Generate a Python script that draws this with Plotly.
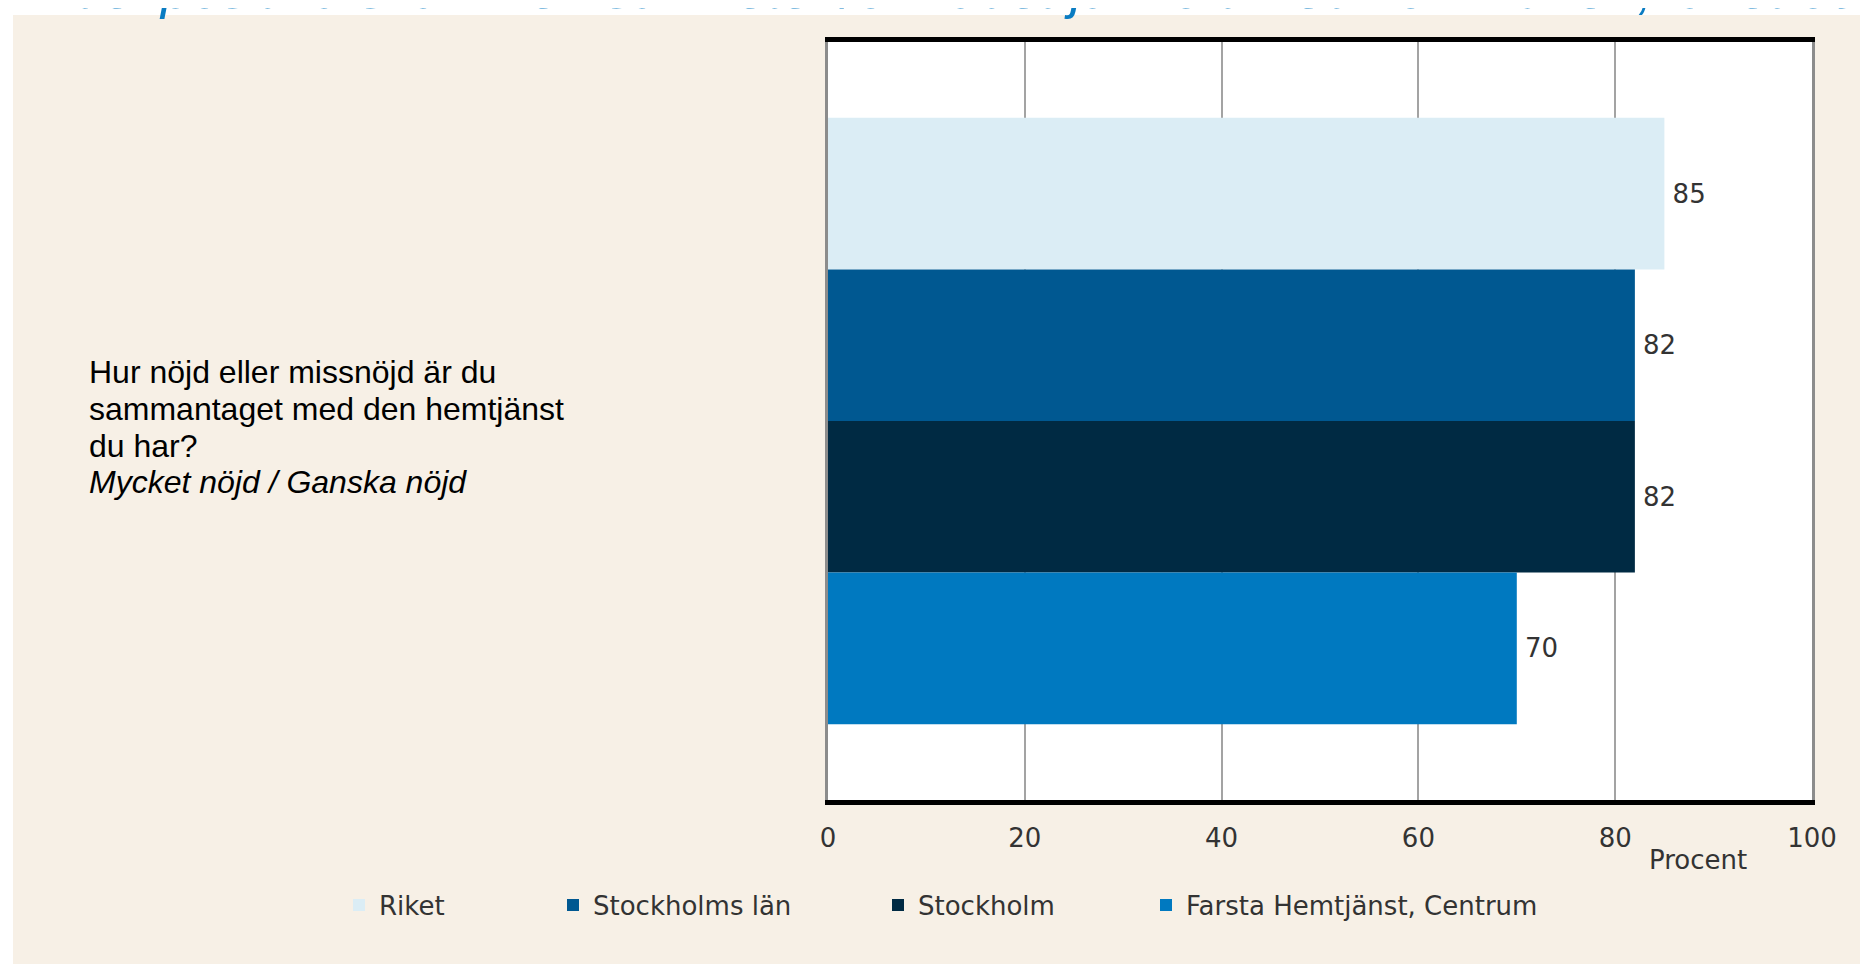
"""
Horizontal bar chart: share of positive answers, unit vs municipality, county and country
"""
import plotly.graph_objects as go

# Data
question = "Hur nöjd eller missnöjd är du sammantaget med den hemtjänst du har?"
question_lines = ["Hur nöjd eller missnöjd är du", "sammantaget med den hemtjänst",
                  "du har?", "<i>Mycket nöjd / Ganska nöjd</i>"]
series_names = ["Riket", "Stockholms län", "Stockholm", "Farsta Hemtjänst, Centrum"]
series_values = [85, 82, 82, 70]
series_colors = ["#dbedf5", "#005891", "#002a43", "#0079c0"]
tick_values = [0, 20, 40, 60, 80, 100]

# The page body adds an 8px margin, so figure pixels = screen pixels - 8
OFF = 8
W, H = 1868, 964
L, T = 828 - OFF, 42 - OFF
PLOT_R, PLOT_B = 1812 - OFF, 800 - OFF
R, B = W - PLOT_R, H - PLOT_B
PW, PH = PLOT_R - L, PLOT_B - T


def px_x(sx):
    """screen x -> paper x"""
    return (sx - OFF - L) / PW


def px_y(sy):
    """screen y (from top) -> paper y"""
    return (PLOT_B - (sy - OFF)) / PH


CHART_FONT = "DejaVu Sans, Verdana, sans-serif"
TEXT_FONT = "Liberation Sans, Arial, sans-serif"

fig = go.Figure()

legend_ids = ["legend", "legend2", "legend3", "legend4"]
legend_px = [339, 553, 878, 1146]

for name, val, col, lg in zip(series_names, series_values, series_colors, legend_ids):
    fig.add_trace(go.Bar(
        x=[val],
        y=[question],
        orientation="h",
        name=name,
        marker=dict(color=col, line=dict(width=0)),
        text=[val],
        texttemplate="\u2009%{x}",
        textposition="outside",
        textfont=dict(family=CHART_FONT, size=26, color="#333333"),
        cliponaxis=False,
        legend=lg,
        hovertemplate=name + ": %{x}%<extra></extra>",
    ))

legend_style = dict(
    orientation="h",
    xanchor="left",
    yanchor="middle",
    y=px_y(905),
    bgcolor="rgba(0,0,0,0)",
    borderwidth=0,
    font=dict(family=CHART_FONT, size=26, color="#333333"),
    itemwidth=30,
)

layout_legends = {}
for lg, lx in zip(legend_ids, legend_px):
    layout_legends[lg] = dict(legend_style, x=px_x(lx))

fig.update_layout(
    width=W,
    height=H,
    margin=dict(l=L, r=R, t=T, b=B, pad=0),
    paper_bgcolor="#f7f0e6",
    plot_bgcolor="#ffffff",
    barmode="group",
    bargap=0.2,
    showlegend=True,
    xaxis=dict(
        range=[0, 100],
        tickvals=tick_values,
        ticktext=[str(v) for v in tick_values],
        showgrid=True,
        gridcolor="#a3a3a3",
        gridwidth=2,
        zeroline=False,
        showline=True,
        linecolor="#000000",
        linewidth=5,
        mirror=True,
        ticks="outside",
        ticklen=11,
        tickcolor="rgba(0,0,0,0)",
        tickfont=dict(family=CHART_FONT, size=26, color="#333333"),
        fixedrange=True,
    ),
    yaxis=dict(
        autorange="reversed",
        showticklabels=False,
        showgrid=False,
        zeroline=False,
        showline=True,
        linecolor="#8c8c8c",
        linewidth=3,
        mirror=True,
        ticks="",
        fixedrange=True,
    ),
    **layout_legends,
)

# White strips at top and left edge (the screenshot crop)
fig.add_shape(type="rect", xref="paper", yref="paper",
              x0=-0.9, x1=1.2, y0=px_y(15), y1=px_y(-20),
              fillcolor="#ffffff", line=dict(width=0), layer="below")
fig.add_shape(type="rect", xref="paper", yref="paper",
              x0=-0.9, x1=px_x(13), y0=px_y(1000), y1=px_y(-20),
              fillcolor="#ffffff", line=dict(width=0), layer="below")

# Cut-off title at the very top
fig.add_annotation(
    text="<i>Andel positiva svar i verksamheten/området jämfört med kommunen, länet och riket</i>",
    xref="paper", yref="paper",
    x=px_x(3), y=px_y(21),
    xanchor="left", yanchor="bottom",
    showarrow=False,
    font=dict(family=TEXT_FONT, size=54, color="#0a7cc2"),
)

# Question text on the left, one line at a time
line_y = [372, 409, 446, 482]
for txt, ly in zip(question_lines, line_y):
    fig.add_annotation(
        text=txt,
        xref="paper", yref="paper",
        x=px_x(87), y=px_y(ly),
        xanchor="left", yanchor="middle",
        align="left",
        showarrow=False,
        font=dict(family=TEXT_FONT, size=32, color="#000000"),
    )

# Axis title
fig.add_annotation(
    text="Procent",
    xref="paper", yref="paper",
    x=px_x(1698), y=px_y(860),
    xanchor="center", yanchor="middle",
    showarrow=False,
    font=dict(family=CHART_FONT, size=26, color="#333333"),
)

fig.write_html("out.html")
